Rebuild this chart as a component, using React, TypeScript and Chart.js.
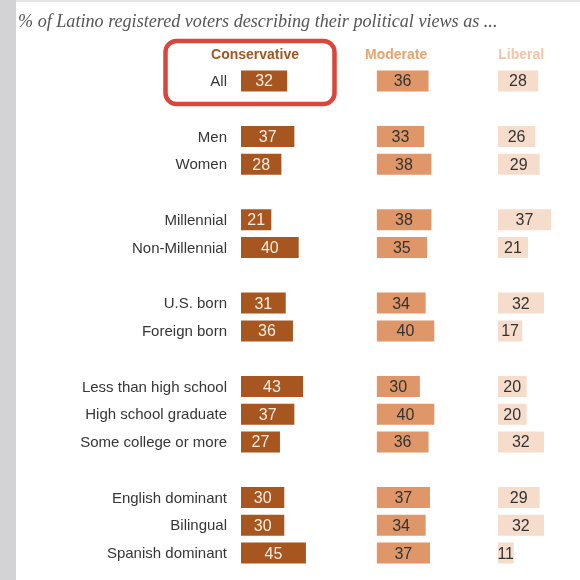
import React, { useEffect, useRef } from "react";
import { Chart, registerables } from "chart.js";

Chart.register(...registerables);

const title = "% of Latino registered voters describing their political views as ...";
const seriesNames = ["Conservative", "Moderate", "Liberal"];
const categories = [
  "All",
  "Men", "Women",
  "Millennial", "Non-Millennial",
  "U.S. born", "Foreign born",
  "Less than high school", "High school graduate", "Some college or more",
  "English dominant", "Bilingual", "Spanish dominant",
];
const groupSizes = [1, 2, 2, 2, 3, 3];
const conservative = [32, 37, 28, 21, 40, 31, 36, 43, 37, 27, 30, 30, 45];
const moderate = [36, 33, 38, 38, 35, 34, 40, 30, 40, 36, 37, 34, 37];
const liberal = [28, 26, 29, 37, 21, 32, 17, 20, 20, 32, 29, 32, 11];

const barColors = ["#A7561F", "#DF9668", "#F6DCCA"];
const headerColors = ["#A4541E", "#EAA26F", "#F0C5A8"];
const valueColors = ["#F8ECE2", "#333333", "#333333"];
const axisMax = [94, 84, 57];
const headerOffsets = [14, 19.5, 23.5];
const axisIds = ["xc", "xm", "xl"];

// insert blank spacer rows between groups
function buildRows() {
  const labels: string[] = [];
  const series: (number | null)[][] = [[], [], []];
  const values = [conservative, moderate, liberal];
  let k = 0;
  groupSizes.forEach((size, g) => {
    if (g > 0) {
      labels.push("");
      series.forEach((s) => s.push(null));
    }
    for (let i = 0; i < size; i++, k++) {
      labels.push(categories[k]);
      series.forEach((s, si) => s.push(values[si][k]));
    }
  });
  return { labels, series };
}

const SANS = "'Liberation Sans', Arial, sans-serif";

const framePlugin = {
  id: "frame",
  beforeDraw(chart: any) {
    const ctx = chart.ctx;
    ctx.save();
    ctx.fillStyle = "#FFFFFF";
    ctx.fillRect(0, 0, chart.width, chart.height);
    ctx.fillStyle = "#E6E6E8";
    ctx.fillRect(0, 0, chart.width, 2);
    ctx.fillStyle = "#D3D3D5";
    ctx.fillRect(0, 0, 16, chart.height);
    // title
    let size = 17;
    ctx.font = `italic ${size}px 'Liberation Serif', serif`;
    const w = ctx.measureText(title).width;
    size = size * 480 / w;
    ctx.font = `italic ${size}px 'Liberation Serif', serif`;
    ctx.fillStyle = "#555555";
    ctx.textAlign = "left";
    ctx.textBaseline = "alphabetic";
    ctx.fillText(title, 18, 27);
    ctx.restore();
  },
};

const overlayPlugin = {
  id: "overlay",
  afterDatasetsDraw(chart: any) {
    const ctx = chart.ctx;
    ctx.save();
    ctx.textAlign = "center";
    ctx.textBaseline = "middle";
    ctx.font = `16px ${SANS}`;
    chart.data.datasets.forEach((ds: any, i: number) => {
      const meta = chart.getDatasetMeta(i);
      ctx.fillStyle = valueColors[i];
      meta.data.forEach((el: any, j: number) => {
        const v = ds.data[j];
        if (v == null) return;
        const p = el.getProps(["x", "y", "base"], true);
        ctx.fillText(String(v), (p.x + p.base) / 2, p.y + 1);
      });
    });
    ctx.restore();
  },
  afterDraw(chart: any) {
    const ctx = chart.ctx;
    ctx.save();
    ctx.textAlign = "center";
    ctx.textBaseline = "middle";
    ctx.font = `bold 14px ${SANS}`;
    axisIds.forEach((id, i) => {
      const sc = chart.scales[id];
      ctx.fillStyle = headerColors[i];
      ctx.fillText(seriesNames[i], sc.left + headerOffsets[i], 55);
    });
    // highlight box
    ctx.strokeStyle = "#D9463B";
    ctx.lineWidth = 4.5;
    ctx.beginPath();
    ctx.roundRect(165.5, 41, 169, 63, 11);
    ctx.stroke();
    ctx.restore();
  },
};

export default function App() {
  const ref = useRef<HTMLCanvasElement | null>(null);
  useEffect(() => {
    const { labels, series } = buildRows();
    const total = axisMax.reduce((a, b) => a + b, 0);
    const xScale = (i: number) => ({
      type: "linear",
      position: "bottom",
      stack: "cols",
      stackWeight: axisMax[i] / total,
      min: 0,
      max: axisMax[i],
      display: true,
      grid: { display: false, drawTicks: false },
      border: { display: false },
      ticks: { display: false },
      afterFit: (s: any) => { s.height = 0; },
    });
    const chart = new Chart(ref.current as HTMLCanvasElement, {
      type: "bar",
      data: {
        labels,
        datasets: series.map((data, i) => ({
          label: seriesNames[i],
          data,
          xAxisID: axisIds[i],
          yAxisID: "y",
          backgroundColor: barColors[i],
          borderWidth: 0,
          grouped: false,
          categoryPercentage: 1,
          barPercentage: 0.756,
        })),
      },
      options: {
        indexAxis: "y",
        responsive: false,
        animation: false,
        layout: { padding: { top: 67, bottom: 13, left: 0, right: 0 } },
        plugins: { legend: { display: false }, tooltip: { enabled: false }, title: { display: false } },
        scales: {
          y: {
            type: "category",
            position: "left",
            grid: { display: false, drawTicks: false },
            border: { display: false },
            ticks: {
              autoSkip: false,
              padding: 14,
              labelOffset: 1,
              color: "#363636",
              font: { family: SANS, size: 15 },
            },
            afterFit: (s: any) => {
              s.width = 241;
              s.paddingTop = 0;
              s.paddingBottom = 0;
            },
          },
          xc: xScale(0),
          xm: xScale(1),
          xl: xScale(2),
        },
      } as any,
      plugins: [framePlugin, overlayPlugin],
    });
    return () => chart.destroy();
  }, []);
  return (
    <div style={{ position: "absolute", left: 0, top: 0, width: 580, height: 580 }}>
      <canvas ref={ref} width={580} height={580} style={{ display: "block" }} />
    </div>
  );
}
